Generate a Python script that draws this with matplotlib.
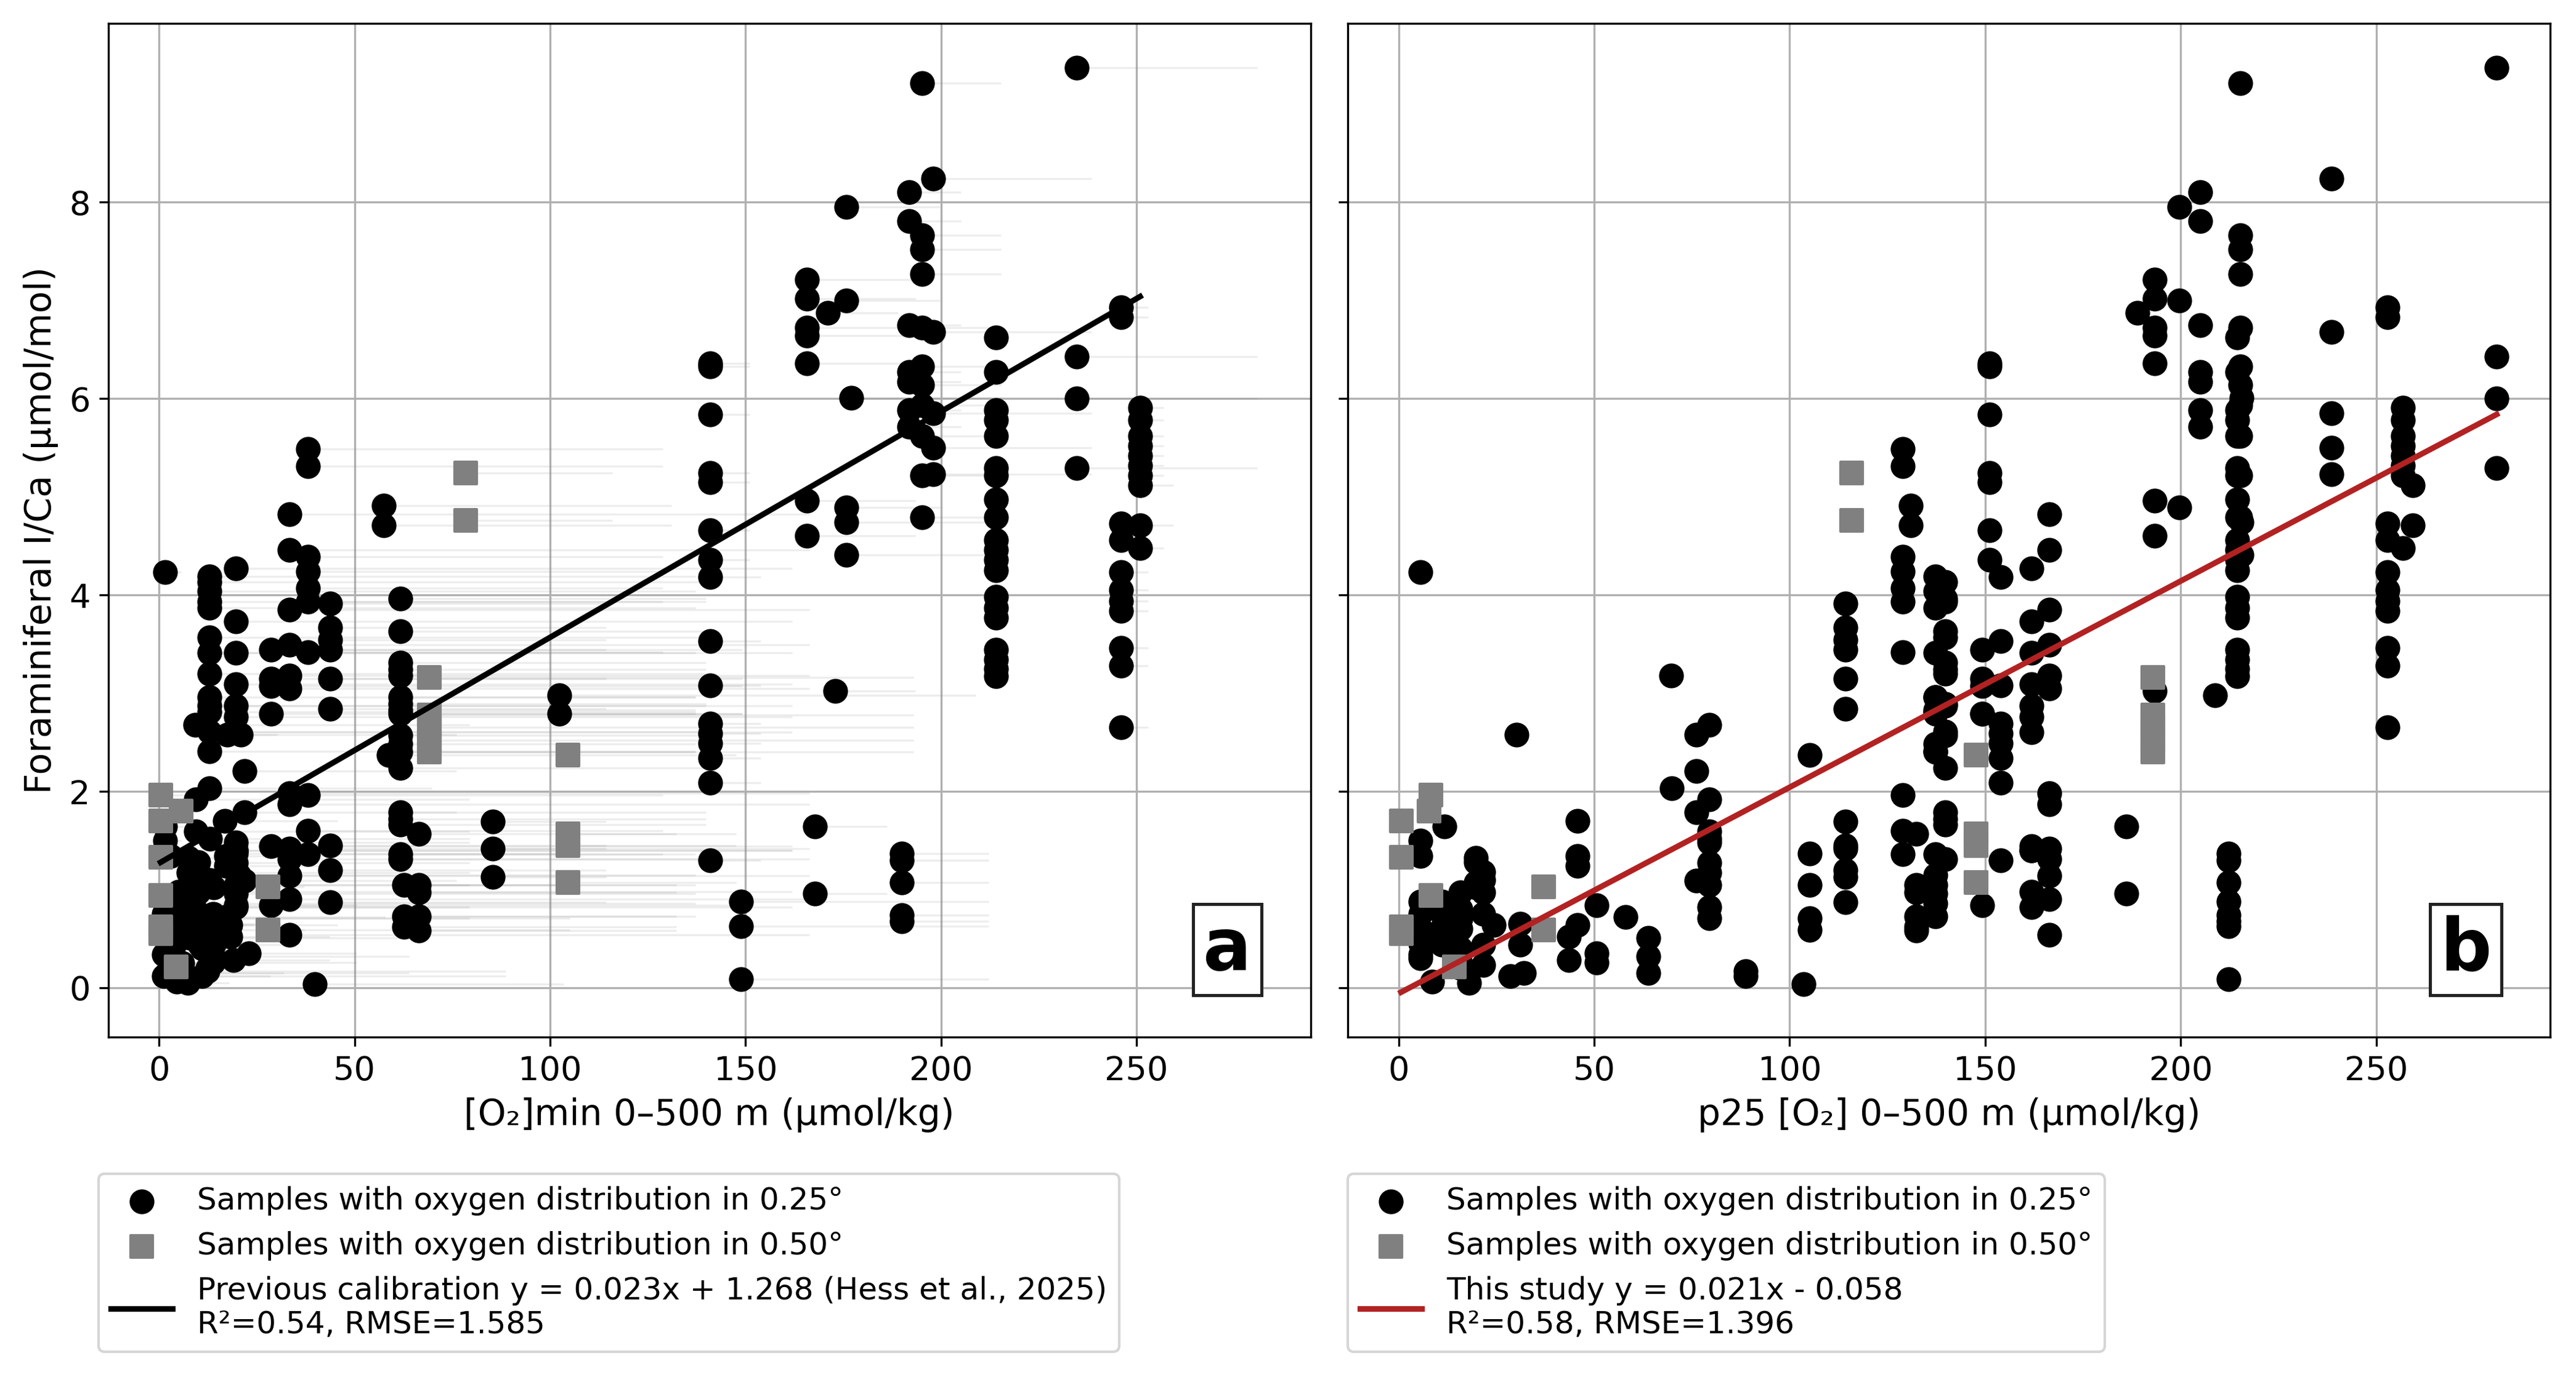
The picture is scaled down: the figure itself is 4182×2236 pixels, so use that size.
import numpy as np
import matplotlib
matplotlib.use("Agg")
import matplotlib.pyplot as plt

# ---------------- data ----------------
# Each site: [O2]min (panel a), p25 [O2] (panel b), list of I/Ca values measured at that site
circ_site_o2min = [234.7, 246.0, 250.9, 250.9, 198.0, 195.1, 191.8, 214.0, 190.0, 148.9,
                   177.0, 175.8, 175.8, 171.0, 165.7, 173.0, 167.8, 140.9, 140.9, 102.4,
                   102.4, 85.3, 57.4, 38.1, 33.4, 43.8, 28.7, 28.7, 19.7, 12.9,
                   12.9, 61.8, 61.8, 61.8, 58.8, 66.5, 62.6, 62.6, 1.5, 12.9,
                   9.2, 17.5, 21.0, 21.9, 39.8,
                   1.6, 3.0, 2.4, 1.3, 3.5, 4.0, 1.3, 4.0, 4.5, 1.5,
                   6.6, 5.5, 6.0, 10.3, 12.0, 7.0, 8.0, 11.0, 9.0, 11.0,
                   6.0, 12.4, 7.4, 7.6, 10.0, 9.7, 14.0, 8.0, 12.9, 10.0,
                   13.9, 12.0, 3.0, 18.2, 11.0, 5.0, 14.0, 6.0, 18.2, 19.0,
                   16.9, 17.1, 17.1, 16.9, 19.7, 22.9, 13.9, 16.9, 8.0, 13.9,
                   2.0, 9.5, 9.5, 13.0, 19.7, 19.7, 7.6, 19.7, 19.7, 17.0,
                   12.4, 1.3, 19.7, 12.9, 14.0, 10.0, 20.5, 19.7, 6.0, 19.7,
                   5.0, 9.0]
circ_site_o2p25 = [280.8, 252.9, 256.9, 259.4, 238.5, 215.3, 205.0, 214.4, 212.2, 212.2,
                   215.6, 199.7, 215.6, 189.0, 193.4, 193.4, 186.1, 151.1, 153.9, 208.8,
                   149.2, 114.3, 131.0, 128.9, 166.4, 114.3, 149.2, 161.9, 161.9, 137.2,
                   139.8, 139.8, 137.2, 69.6, 105.1, 132.3, 137.2, 132.3, 5.6, 69.8,
                   79.4, 76.1, 30.2, 76.1, 103.5,
                   5.6, 5.6, 5.6, 5.6, 5.6, 5.6, 5.6, 5.6, 8.5, 11.7,
                   11.0, 11.0, 11.0, 11.0, 11.0, 15.8, 15.8, 15.8, 15.8, 15.8,
                   15.8, 15.8, 18.0, 19.8, 19.8, 19.8, 19.8, 21.7, 21.7, 21.7,
                   21.7, 21.7, 21.7, 24.3, 28.5, 31.1, 31.1, 32.0, 43.6, 43.6,
                   45.7, 45.7, 45.7, 45.7, 50.6, 50.6, 50.6, 58.0, 63.9, 63.9,
                   63.9, 79.4, 79.4, 79.4, 79.4, 79.4, 79.4, 79.4, 79.4, 79.4,
                   88.7, 88.7, 105.1, 105.1, 105.1, 105.1, 137.2, 137.2, 137.2, 161.9,
                   161.9, 161.9]
circ_site_ica = [[9.37, 6.43, 6.00, 5.29],
                 [6.93, 6.83, 4.73, 4.56, 4.23, 4.05, 3.94, 3.84, 3.46, 3.28, 2.65],
                 [5.91, 5.78, 5.62, 5.52, 5.42, 5.32, 5.22, 4.48],
                 [5.12, 4.71],
                 [8.24, 6.68, 5.85, 5.50, 5.23],
                 [9.21, 7.66, 7.52, 7.27, 6.72, 6.33, 6.14, 5.93, 5.62, 5.22, 4.79],
                 [8.10, 7.81, 6.75, 6.27, 6.17, 5.88, 5.71],
                 [6.62, 6.27, 5.88, 5.78, 5.62, 5.29, 5.22, 4.97, 4.79, 4.56, 4.46, 4.36,
                  4.25, 3.98, 3.87, 3.77, 3.44, 3.34, 3.25, 3.17],
                 [1.37, 1.30, 1.07, 0.74, 0.68],
                 [0.88, 0.63, 0.09],
                 [6.01],
                 [7.95, 7.00, 4.89],
                 [4.74, 4.41],
                 [6.87],
                 [7.21, 7.02, 6.72, 6.64, 6.36, 4.96, 4.60],
                 [3.02],
                 [1.64, 0.96],
                 [6.36, 6.33, 5.84, 5.24, 5.15, 4.66, 4.36],
                 [4.18, 3.53, 3.08, 2.69, 2.59, 2.49, 2.34, 2.09, 1.30],
                 [2.98],
                 [2.79],
                 [1.69, 1.42, 1.13],
                 [4.91, 4.71],
                 [5.49, 5.31, 4.39, 4.24, 4.07, 3.93, 3.42, 1.96, 1.60, 1.36],
                 [4.82, 4.46, 3.85, 3.49, 3.18, 3.05, 1.98, 1.87, 1.42, 1.31, 1.14, 0.90, 0.54],
                 [3.91, 3.67, 3.54, 3.44, 3.15, 2.84, 1.45, 1.20, 0.87],
                 [3.44, 3.15, 3.07, 2.79, 0.84],
                 [1.44],
                 [4.27, 3.73, 3.41, 3.09, 2.87, 2.76, 2.60, 1.40],
                 [4.19, 4.04, 3.87, 3.41, 2.96, 2.81, 2.41],
                 [4.13, 3.93, 3.57, 3.20, 2.87, 2.61],
                 [3.96, 3.63, 3.31, 3.24, 2.89, 2.57, 2.24, 1.79, 1.72, 1.66, 1.31],
                 [2.96, 2.83, 2.79, 2.48, 2.40, 1.36],
                 [3.18],
                 [2.37],
                 [1.57, 1.05, 0.97, 0.73, 0.58],
                 [1.05, 0.73],
                 [0.62],
                 [4.23],
                 [2.03],
                 [2.68],
                 [2.58],
                 [2.58],
                 [2.21, 1.79, 1.09],
                 [0.04],
                 [1.50], [1.34], [0.88], [0.75], [0.60], [0.45], [0.34], [0.30], [0.06], [1.64],
                 [0.61], [0.75], [0.88], [0.44], [0.55], [0.97], [0.80], [0.70], [0.60], [0.40],
                 [0.25], [0.20], [0.05], [1.32], [1.28], [1.07], [1.02], [1.18], [1.10], [0.97],
                 [0.75], [0.44], [0.23], [0.64], [0.12], [0.65], [0.44], [0.15], [0.52], [0.28],
                 [1.70], [1.34], [1.24], [0.64], [0.84], [0.35], [0.26], [0.72], [0.51], [0.32],
                 [0.15], [1.92], [1.59], [1.52], [1.48], [1.27], [1.17], [1.05], [0.82], [0.71],
                 [0.17], [0.12], [1.37], [1.05], [0.71], [0.59], [1.15], [0.96], [0.86], [1.40],
                 [0.98], [0.82]]

sq_site_o2min = [0.4, 0.4, 5.6, 4.4, 27.9, 78.5, 69.2, 104.6]
sq_site_o2p25 = [0.6, 8.2, 7.8, 14.3, 37.1, 115.9, 192.9, 147.6]
sq_site_ica = [[1.70, 1.33, 0.62, 0.55],
               [1.96, 0.94],
               [1.80],
               [0.21],
               [1.03, 0.59],
               [5.24, 4.76],
               [3.16, 2.78, 2.65, 2.52, 2.40],
               [2.37, 1.57, 1.45, 1.07]]

prev_slope, prev_intercept = 0.023, 1.268
new_slope, new_intercept = 0.021, -0.058

label_circ = "Samples with oxygen distribution in 0.25°"
label_sq = "Samples with oxygen distribution in 0.50°"
label_prev = "Previous calibration y = 0.023x + 1.268 (Hess et al., 2025)\nR²=0.54, RMSE=1.585"
label_new = "This study y = 0.021x - 0.058\nR²=0.58, RMSE=1.396"
xlabel_a = "[O₂]min 0–500 m (µmol/kg)"
xlabel_b = "p25 [O₂] 0–500 m (µmol/kg)"
ylabel = "Foraminiferal I/Ca (µmol/mol)"


def expand(mins, p25s, icas):
    xm, xp, yy = [], [], []
    for m, p, vals in zip(mins, p25s, icas):
        for v in vals:
            xm.append(m)
            xp.append(p)
            yy.append(v)
    return np.array(xm), np.array(xp), np.array(yy)


c_min, c_p25, c_y = expand(circ_site_o2min, circ_site_o2p25, circ_site_ica)
s_min, s_p25, s_y = expand(sq_site_o2min, sq_site_o2p25, sq_site_ica)

# ---------------- figure ----------------
plt.rcParams['font.family'] = ['DejaVu Sans']
fig, (axa, axb) = plt.subplots(1, 2, figsize=(4182 / 300, 2236 / 300), dpi=300,
                               sharex=True, sharey=True)
fig.subplots_adjust(left=0.042, right=0.990, top=0.983, bottom=0.247, wspace=0.031)

MS = 75
for ax in (axa, axb):
    ax.grid(True, color='#b0b0b0', lw=0.8, zorder=0)
    ax.set_axisbelow(True)
    ax.tick_params(labelsize=13)

# Panel a: distribution ranges (min -> p25) as faint horizontal lines
all_min = np.concatenate([c_min, s_min])
all_p25 = np.concatenate([c_p25, s_p25])
all_y = np.concatenate([c_y, s_y])
axa.hlines(all_y, all_min, all_p25, colors='0.55', lw=0.8, alpha=0.15, zorder=1)

axa.scatter(c_min, c_y, s=MS, marker='o', color='black', zorder=3, label=label_circ)
axa.scatter(s_min, s_y, s=MS, marker='s', color='#808080', zorder=3, label=label_sq)
xa = np.array([all_min.min(), all_min.max()])
axa.plot(xa, prev_slope * xa + prev_intercept, color='black', lw=2.2, zorder=4, label=label_prev)

axb.scatter(c_p25, c_y, s=MS, marker='o', color='black', zorder=3, label=label_circ)
axb.scatter(s_p25, s_y, s=MS, marker='s', color='#808080', zorder=3, label=label_sq)
xb = np.array([all_p25.min(), all_p25.max()])
axb.plot(xb, new_slope * xb + new_intercept, color='#b22222', lw=2.2, zorder=4, label=label_new)

axa.set_xlim(-13, 294.5)
axa.set_ylim(-0.5, 9.82)
axa.set_xticks([0, 50, 100, 150, 200, 250])
axa.set_yticks([0, 2, 4, 6, 8])

axa.set_xlabel(xlabel_a, fontsize=14)
axb.set_xlabel(xlabel_b, fontsize=14)
axa.set_ylabel(ylabel, fontsize=14)

for ax, letter, lx in ((axa, 'a', -0.008), (axb, 'b', 0.0)):
    ax.text(0.951, 0.051, letter, transform=ax.transAxes, ha='right', va='bottom',
            fontsize=28, fontweight='bold', zorder=6,
            bbox=dict(boxstyle='square,pad=0.14', facecolor='white', edgecolor='#222222', lw=1.2))
    ax.legend(loc='upper left', bbox_to_anchor=(lx, -0.135), fontsize=12,
              frameon=True, borderaxespad=0.0)

fig.savefig('out.png', dpi=300)
